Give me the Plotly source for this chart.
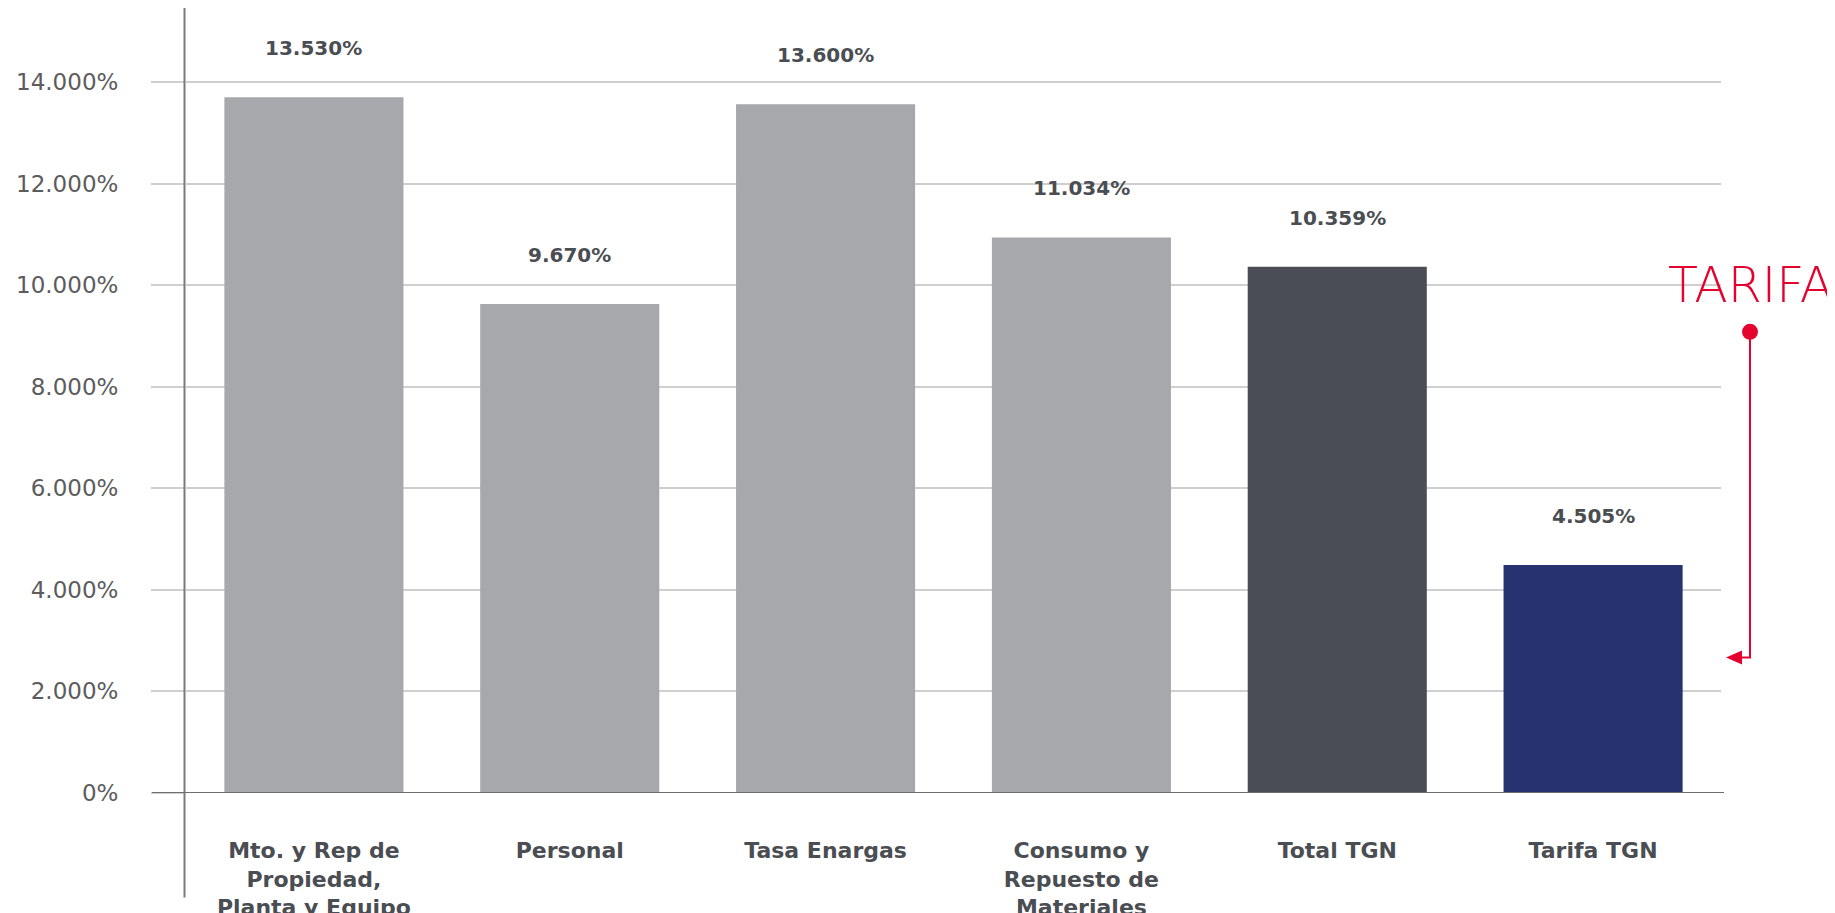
import plotly.graph_objects as go

categories = [
    "Mto. y Rep de<br>Propiedad,<br>Planta y Equipo",
    "Personal",
    "Tasa Enargas",
    "Consumo y<br>Repuesto de<br>Materiales",
    "Total TGN",
    "Tarifa TGN",
]
values = [13.70, 9.63, 13.56, 10.94, 10.36, 4.49]
value_labels = ["13.530%", "9.670%", "13.600%", "11.034%", "10.359%", "4.505%"]
bar_colors = ["#A7A8AC", "#A7A8AC", "#A7A8AC", "#A7A8AC", "#4A4D55", "#263370"]
tick_vals = [0, 2, 4, 6, 8, 10, 12, 14]
tick_text = ["0%", "2.000%", "4.000%", "6.000%", "8.000%", "10.000%", "12.000%", "14.000%"]
tarifa_top = 9.08
tarifa_bottom = 2.67

W, H = 1835, 913
OFF = 8  # page body margin
L, R, T, B = 178, 122, 0, 127.5
pw = W - L - R
ph = H - T - B

def px(x):
    return (x - OFF - L) / pw

fig = go.Figure()
fig.add_trace(go.Bar(
    x=categories, y=values, marker=dict(color=bar_colors, line=dict(width=0)),
    hoverinfo="skip",
))

for c, v, t in zip(categories, values, value_labels):
    fig.add_annotation(x=c, y=v, text=t, showarrow=False, yanchor="middle",
                       yshift=49, font=dict(family="DejaVu Sans", size=20, color="#4A4D52", weight="bold"))

# vertical axis line
fig.add_shape(type="line", xref="paper", yref="paper", x0=px(184.5), x1=px(184.5),
              y0=-(898 - 793.5) / ph, y1=1.0 + 2 / ph, line=dict(color="#7A7A7A", width=2), layer="above")
# zero line
fig.add_shape(type="line", xref="paper", yref="y", x0=px(152), x1=px(1724), y0=0, y1=0,
              line=dict(color="#6E6E6E", width=2), layer="above")

red = "#E4032E"
xr = px(1750)
fig.add_shape(type="path", xref="paper", yref="y",
              path=f"M {xr} {tarifa_top} L {xr} {tarifa_bottom} L {px(1741)} {tarifa_bottom}",
              line=dict(color=red, width=2), layer="above")
fig.add_shape(type="circle", xref="paper", yref="y", xsizemode="pixel", ysizemode="pixel",
              xanchor=xr, yanchor=tarifa_top, x0=-8, x1=8, y0=-8, y1=8,
              fillcolor=red, line=dict(width=0))
fig.add_shape(type="path", xref="paper", yref="y", xsizemode="pixel", ysizemode="pixel",
              xanchor=px(1742), yanchor=tarifa_bottom,
              path="M 0 -7 L -16 0 L 0 7 Z", fillcolor=red, line=dict(width=0))
fig.add_annotation(xref="paper", yref="y", x=px(1750), y=tarifa_top, yshift=46,
                   text="TARIFA", showarrow=False, xanchor="center", yanchor="middle",
                   font=dict(family="DejaVu Sans", size=49, color=red, weight=300))

fig.update_layout(
    width=W, height=H, margin=dict(l=L, r=R, t=T, b=B, pad=0, autoexpand=False),
    paper_bgcolor="white", plot_bgcolor="white", showlegend=False, bargap=0.30,
    xaxis=dict(range=[-0.5, 5.5], showgrid=False, showline=False, zeroline=False, ticks="",
               tickfont=dict(family="DejaVu Sans", size=22, color="#4A4D52", weight="bold"),
               ticklabelstandoff=42, automargin=False),
    yaxis=dict(range=[0, 14 + (82 - OFF) / 50.8], tickvals=tick_vals, ticktext=tick_text,
               showgrid=True, gridcolor="#CFCFCF", gridwidth=1.5, zeroline=False, showline=False,
               ticks="outside", ticklen=34, tickcolor="#CFCFCF", tickwidth=1.5,
               ticklabelstandoff=28, automargin=False,
               tickfont=dict(family="DejaVu Sans", size=23, color="#5C5C5C")),
)
fig.write_html("out.html")
